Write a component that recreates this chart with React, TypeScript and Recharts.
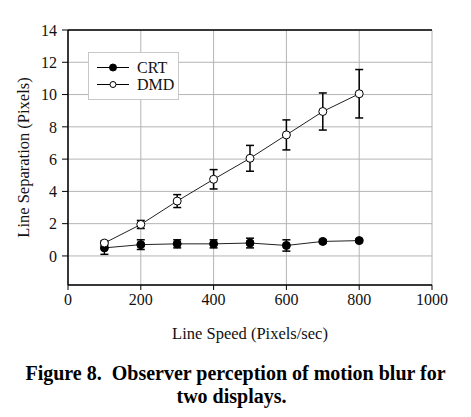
import {
  LineChart, Line, XAxis, YAxis, CartesianGrid, ErrorBar, ReferenceLine, Label,
} from "recharts";

// line speed in pixels/sec
const speeds = [100, 200, 300, 400, 500, 600, 700, 800];
// CRT line separation (pixels) and its error
const crtMean = [0.5, 0.7, 0.75, 0.75, 0.8, 0.65, 0.9, 0.95];
const crtErr = [0.4, 0.3, 0.25, 0.25, 0.3, 0.35, 0.1, 0.08];
// DMD line separation (pixels) and its error
const dmdMean = [0.8, 1.95, 3.4, 4.75, 6.05, 7.5, 8.95, 10.05];
const dmdErr = [0.12, 0.25, 0.4, 0.6, 0.8, 0.93, 1.15, 1.5];

const xTicks = [0, 200, 400, 600, 800, 1000];
const yTicks = [0, 2, 4, 6, 8, 10, 12, 14];

const data = speeds.map((s, i) => ({
  speed: s,
  crt: crtMean[i],
  crtErr: crtErr[i],
  dmd: dmdMean[i],
  dmdErr: dmdErr[i],
}));

const font = "Liberation Serif";
const tickStyle = { fontSize: 16, fill: "#111", fontFamily: font };

function Legend() {
  return (
    <div
      style={{
        position: "absolute", left: 88, top: 52, width: 91, height: 48,
        border: "1px solid #c8c8c8", background: "#fff", boxSizing: "border-box",
        fontFamily: font, fontSize: 16, color: "#111",
      }}
    >
      {[
        { name: "CRT", fill: "#000" },
        { name: "DMD", fill: "#fff" },
      ].map((it, i) => (
        <div key={it.name} style={{ position: "absolute", left: 7, top: 6 + i * 17, height: 17, display: "flex", alignItems: "center" }}>
          <svg width={34} height={17}>
            <line x1={1} y1={8.5} x2={33} y2={8.5} stroke="#000" strokeWidth={1} />
            <circle cx={17} cy={8.5} r={it.fill === "#000" ? 3.5 : 3} fill={it.fill} stroke="#000" strokeWidth={1} />
          </svg>
          <span style={{ marginLeft: 7, lineHeight: "17px" }}>{it.name}</span>
        </div>
      ))}
    </div>
  );
}

export default function App() {
  return (
    <div style={{ position: "absolute", left: 0, top: 0, width: 471, height: 417, background: "#fff", fontFamily: font }}>
      <LineChart width={471} height={417} data={data} margin={{ top: 30, right: 39, bottom: 72, left: 20 }}
        style={{ fontFamily: font }}>
        <CartesianGrid stroke="#b4b4b4" strokeWidth={1} />
        <XAxis
          dataKey="speed" type="number" domain={[0, 1000]} ticks={xTicks}
          stroke="#000" tick={tickStyle} tickSize={5} tickMargin={4} height={60}
          axisLine={{ stroke: "#000", strokeWidth: 1.5 }} tickLine={{ stroke: "#000" }}
        >
          <Label value="Line Speed (Pixels/sec)" position="insideBottom" offset={6}
            style={{ fontSize: 16.5, fill: "#111", fontFamily: font }} />
        </XAxis>
        <YAxis
          type="number" domain={[-1.8, 14]} ticks={yTicks} allowDataOverflow
          width={48} tick={tickStyle} tickSize={6} tickMargin={5}
          axisLine={{ stroke: "#000", strokeWidth: 1.5 }} tickLine={{ stroke: "#000" }}
        >
          <Label value="Line Separation (Pixels)" angle={-90} position="insideLeft" offset={3}
            style={{ fontSize: 16.5, fill: "#111", fontFamily: font, textAnchor: "middle" }} />
        </YAxis>
        <YAxis
          yAxisId="right" orientation="right" type="number" domain={[-1.8, 14]} ticks={yTicks}
          width={0} mirror tickSize={4} tickFormatter={() => ""}
          axisLine={{ stroke: "#a0a0a0", strokeWidth: 1.5 }} tickLine={{ stroke: "#333" }}
        />
        <ReferenceLine y={14} stroke="#000" strokeWidth={1.5} />
        <Line
          dataKey="crt" stroke="#222" strokeWidth={1} isAnimationActive={false}
          dot={{ r: 4, fill: "#000", stroke: "#000", strokeWidth: 1 }}
        >
          <ErrorBar dataKey="crtErr" direction="y" width={4} stroke="#000" strokeWidth={1.5} />
        </Line>
        <Line
          dataKey="dmd" stroke="#222" strokeWidth={1} isAnimationActive={false}
          dot={{ r: 4, fill: "#fff", stroke: "#000", strokeWidth: 1 }}
        >
          <ErrorBar dataKey="dmdErr" direction="y" width={4} stroke="#000" strokeWidth={1.5} />
        </Line>
      </LineChart>
      <Legend />
      <div
        style={{
          position: "absolute", left: 0, top: 362, width: 471, textAlign: "center",
          fontFamily: font, fontWeight: "bold", fontSize: 20, lineHeight: "23px",
          color: "#000",
        }}
      >
        <div style={{ whiteSpace: "pre" }}>{"Figure 8.  Observer perception of motion blur for"}</div>
        <div style={{ marginLeft: -8 }}>two displays.</div>
      </div>
    </div>
  );
}
